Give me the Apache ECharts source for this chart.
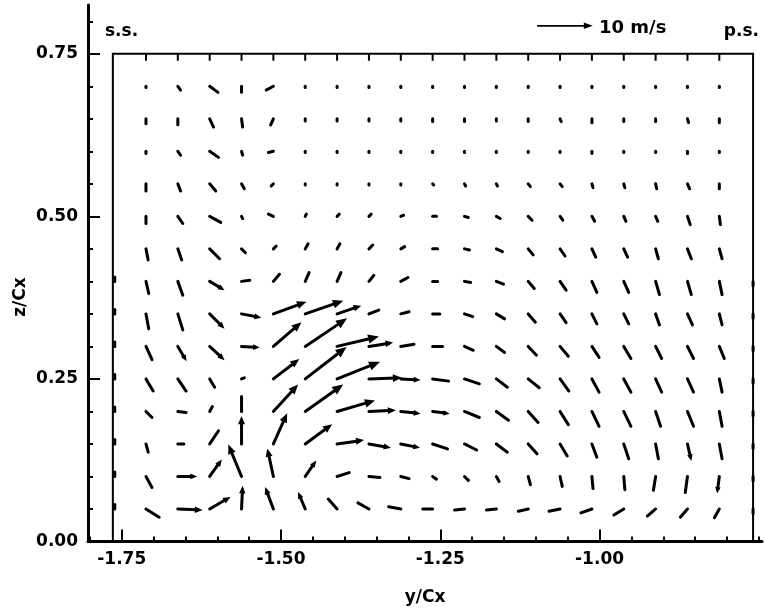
<!DOCTYPE html>
<html>
<head>
<meta charset="utf-8">
<script src="https://cdn.jsdelivr.net/npm/echarts@6/dist/echarts.min.js"></script>
<style>
html,body{margin:0;padding:0;background:#fff;}
#chart{width:764px;height:616px;}
</style>
</head>
<body>
<div id="chart"></div>
<script>
// ---- data ----
// measurement columns (y/Cx) and rows (z/Cx)
const xCols = [-1.712,-1.662,-1.612,-1.562,-1.512,-1.462,-1.412,-1.362,-1.312,-1.262,-1.212,-1.162,-1.112,-1.062,-1.012,-0.962,-0.912,-0.862,-0.812];
const zRows = [0.05,0.10,0.15,0.20,0.25,0.30,0.35,0.40,0.45,0.50,0.55,0.60,0.65,0.70];
// horizontal velocity component (m/s), one row per zRows entry
const U = [
 [2.4, 4.5, 3.8, 0.2,-1.5,-1.3,-1.6,-2.0,-2.2,-1.8,-1.8,-1.8,-1.8,-2.0,-2.0,-1.8,-1.5,-1.3,-0.9],
 [1.1, 3.5, 2.2,-2.4,-1.1, 2.0, 2.2, 2.0, 1.5, 0.7, 0.7, 0.5, 0.4, 0.4, 0.2, 0.2,-0.4,-0.4,-0.4],
 [0.4, 1.1, 1.6, 0.0, 2.5, 4.9, 4.9, 4.0, 3.5, 2.7, 2.2, 2.0, 1.6, 1.3, 0.9, 0.9, 0.5, 0.7, 0.5],
 [1.1, 1.5, 0.5, 0.0, 4.5, 6.9, 6.9, 4.9, 3.6, 3.1, 2.7, 2.2, 1.8, 1.5, 1.3, 1.3, 0.9, 1.1, 0.5],
 [1.3, 1.5, 0.9, 0.5, 4.7, 7.5, 7.8, 6.0, 3.6, 2.9, 2.7, 2.0, 2.0, 1.6, 1.3, 1.3, 1.1, 1.1, 0.5],
 [1.1, 1.6, 2.7, 3.3, 5.1, 7.6, 7.6, 4.4, 2.4, 1.8, 1.6, 1.5, 1.5, 1.5, 1.3, 1.3, 1.1, 1.1, 0.9],
 [0.5, 0.9, 2.7, 3.6, 6.0, 6.9, 4.4, 1.8, 1.5, 1.3, 1.5, 1.5, 1.3, 1.1, 0.9, 0.9, 0.7, 0.9, 0.5],
 [0.5, 0.9, 2.7, 1.5, 1.1, 0.7, 0.7, 0.9, 1.3, 0.9, 1.1, 1.3, 1.1, 1.1, 0.9, 0.9, 0.7, 0.7, 0.5],
 [0.4, 0.7, 1.8, 0.7, 0.5, 0.5, 0.5, 0.7, 0.7, 0.9, 0.9, 1.1, 0.9, 0.9, 0.7, 0.7, 0.5, 0.7, 0.5],
 [0.0, 0.9, 2.0, 0.2,-0.9, 0.2, 0.4, 0.4, 0.5, 0.7, 0.7, 0.7, 0.7, 0.5, 0.5, 0.4, 0.4, 0.5, 0.2],
 [0.0, 0.5, 1.1, 0.5,-0.4, 0.0, 0.0, 0.0, 0.0, 0.2, 0.2, 0.2, 0.4, 0.4, 0.2, 0.2, 0.2, 0.4, 0.0],
 [0.0, 0.5, 1.6, 0.2,-0.9, 0.0, 0.0, 0.0, 0.0, 0.0, 0.0, 0.0, 0.0, 0.0, 0.0, 0.0, 0.0, 0.0, 0.0],
 [0.0, 0.0, 0.7, 0.2,-0.5, 0.0, 0.0, 0.0, 0.0, 0.0, 0.0, 0.0, 0.0, 0.2, 0.0, 0.0, 0.0, 0.2, 0.0],
 [0.0, 0.5, 1.5, 0.0,-1.3, 0.0, 0.0, 0.0, 0.0, 0.0, 0.0, 0.0, 0.0, 0.0, 0.0, 0.0, 0.0, 0.0, 0.0]
];
// vertical velocity component (m/s)
const V = [
 [-1.5,-0.2, 2.2, 4.2, 4.0, 3.1, 1.8, 1.1, 0.4, 0.0,-0.2,-0.2,-0.4,-0.4,-0.7,-1.1,-1.3,-1.5,-1.6],
 [-2.0, 0.0, 3.1, 5.8, 5.1, 2.9, 0.7,-0.2,-0.4,-0.5,-0.7,-0.9,-1.5,-1.8,-2.2,-2.4,-2.5,-2.9,-3.1],
 [-1.5, 0.0, 2.4, 5.1, 5.6, 3.6, 0.7,-0.7,-0.7,-0.9,-1.1,-1.5,-1.8,-2.2,-2.4,-2.7,-2.7,-3.1,-2.7],
 [-1.1,-0.2, 0.9, 2.7, 4.9, 4.9, 2.0, 0.2,-0.4,-0.4,-1.1,-1.6,-2.0,-2.4,-2.7,-2.7,-2.7,-2.7,-2.7],
 [-2.2,-2.2,-1.5, 0.2, 3.6, 5.8, 3.1, 0.2,-0.2,-0.4,-0.9,-1.5,-1.6,-2.2,-2.4,-2.4,-2.4,-2.4,-2.4],
 [-2.4,-2.7,-2.5,-0.2, 4.4, 5.1, 1.8, 0.7, 0.4, 0.0,-0.7,-1.1,-1.6,-1.8,-2.0,-2.2,-2.2,-2.2,-2.2],
 [-2.7,-2.9,-2.7,-0.7, 2.2, 2.4, 1.5, 0.7, 0.4, 0.0,-0.5,-0.9,-1.5,-1.6,-1.8,-1.8,-2.0,-2.0,-2.0],
 [-2.2,-2.5,-1.6, 0.2, 1.3, 1.6, 1.6, 1.1, 0.7, 0.0,-0.2,-0.5,-1.3,-1.6,-2.0,-2.0,-2.4,-2.4,-2.4],
 [-2.0,-2.0,-1.8,-0.7, 0.5, 0.9, 0.9, 0.7, 0.4, 0.0,-0.2,-0.5,-1.1,-1.3,-1.5,-1.5,-1.8,-1.8,-1.8],
 [-1.3,-1.3,-1.1,-0.4, 0.4, 0.4, 0.4, 0.4, 0.2, 0.0,-0.2,-0.4,-0.7,-0.7,-0.9,-0.9,-0.9,-1.5,-1.5],
 [-1.3,-1.3,-1.3,-0.9,-0.4,-0.2,-0.2,-0.2,-0.2,-0.2,-0.4,-0.4,-0.5,-0.5,-0.7,-0.7,-0.9,-0.9,-0.9],
 [-0.4,-0.7,-1.1,-0.7,-0.2,-0.2,-0.2,-0.2,-0.2,-0.2,-0.2,-0.2,-0.2,-0.2,-0.4,-0.2,-0.2,-0.4,-0.2],
 [-0.9,-1.1,-1.5,-1.5,-1.1,-0.4,-0.4,-0.4,-0.4,-0.5,-0.5,-0.4,-0.5,-0.5,-0.7,-0.5,-0.5,-0.7,-0.7],
 [-0.2,-0.7,-1.1,-1.1,-0.7,-0.2,-0.2,-0.2,-0.2,-0.2,-0.2,-0.2,-0.2,-0.2,-0.2,-0.2,-0.2,-0.2,-0.2]
];
// wall (s.s. / p.s.) vectors
const wallX = [-1.761, -0.759];
const wallZ = [0.05,0.10,0.15,0.20,0.25,0.30,0.35,0.40];
const wallV = [
 [0.8,0.8,0.8,0.8,0.8,0.8,0.8,0.8],
 [-0.8,-0.8,-0.8,-0.8,-0.8,-0.8,-0.8,-0.8]
];
// axis ticks / labels
const xMajor = [-1.75,-1.50,-1.25,-1.00];
const xMinor = [-1.80,-1.75,-1.70,-1.65,-1.60,-1.55,-1.50,-1.45,-1.40,-1.35,-1.30,-1.25,-1.20,-1.15,-1.10,-1.05,-1.00,-0.95,-0.90,-0.85,-0.80,-0.75];
const yMajor = [0.00,0.25,0.50,0.75];
const yMinor = [0.05,0.10,0.15,0.20,0.25,0.30,0.35,0.40,0.45,0.50,0.55,0.60,0.65,0.70,0.75,0.80];
const refSpeed = 10; // m/s, key arrow
const refLabel = '10 m/s';

// ---- layout constants ----
const X_MIN = -1.803, X_MAX = -0.745, Y_MIN = 0, Y_MAX = 0.825;
const BOX = {x0: -1.764, x1: -0.759, z0: 0, z1: 0.75};
const REF_X_LEN = 0.0864;       // x-data length drawn for refSpeed
const KEY_POS = [-1.097, 0.793]; // key arrow tail
const FONT = 'DejaVu Sans';

const vecData = [];
zRows.forEach((z, r) => xCols.forEach((x, c) => vecData.push([x, z, U[r][c], V[r][c], 0])));
wallX.forEach((x, w) => wallZ.forEach((z, r) => vecData.push([x, z, 0, wallV[w][r], 0])));
vecData.push([KEY_POS[0], KEY_POS[1], refSpeed, 0, 1]);

function arrow(p, dx, dy, lw, isKey) {
  const len = Math.hypot(dx, dy);
  const children = [];
  let h = 0;
  if (isKey) h = 9; else if (len >= 17) h = Math.min(11, 3.5 + 0.17 * len);
  const ux = len ? dx / len : 0, uy = len ? dy / len : 0;
  const tx = p[0] + dx, ty = p[1] + dy;
  const ex = h ? tx - ux * h * 0.7 : tx, ey = h ? ty - uy * h * 0.7 : ty;
  children.push({type: 'line', shape: {x1: p[0], y1: p[1], x2: ex, y2: ey},
    style: {stroke: '#000', lineWidth: lw, lineCap: 'round'}});
  if (h) {
    const bx = tx - ux * h, by = ty - uy * h, w = h * (isKey ? 0.36 : 0.42);
    children.push({type: 'polygon', shape: {points: [[tx, ty], [bx - uy * w, by + ux * w], [bx + uy * w, by - ux * w]]},
      style: {fill: '#000'}});
  }
  return children;
}

const chart = echarts.init(document.getElementById('chart'), null, {renderer: 'canvas'});
const labelStyle = {fontFamily: FONT, fontWeight: 'bold', fontSize: 17, color: '#000'};

chart.setOption({
  backgroundColor: '#fff',
  animation: false,
  grid: {left: 88, right: 2, top: 5, bottom: 74.5, containLabel: false},
  xAxis: [{
    type: 'value', min: X_MIN, max: X_MAX, position: 'bottom',
    axisLine: {show: true, onZero: false, lineStyle: {color: '#000', width: 3}},
    axisTick: {show: true, inside: true, length: 12, customValues: xMajor, lineStyle: {color: '#000', width: 2}},
    axisLabel: Object.assign({show: true, customValues: xMajor, margin: 10, formatter: v => v.toFixed(2)}, labelStyle),
    splitLine: {show: false},
    name: 'y/Cx', nameLocation: 'middle', nameGap: 48,
    nameTextStyle: Object.assign({}, labelStyle)
  }, {
    type: 'value', min: X_MIN, max: X_MAX, position: 'bottom',
    axisLine: {show: false, onZero: false},
    axisTick: {show: true, inside: true, length: 5, customValues: xMinor, lineStyle: {color: '#000', width: 2}},
    axisLabel: {show: false}, splitLine: {show: false}
  }],
  yAxis: [{
    type: 'value', min: Y_MIN, max: Y_MAX, position: 'left',
    axisLine: {show: true, onZero: false, lineStyle: {color: '#000', width: 3}},
    axisTick: {show: true, inside: true, length: 12, customValues: yMajor, lineStyle: {color: '#000', width: 2}},
    axisLabel: Object.assign({show: true, customValues: yMajor, margin: 10, formatter: v => v.toFixed(2)}, labelStyle),
    splitLine: {show: false}
  }, {
    type: 'value', min: Y_MIN, max: Y_MAX, position: 'left',
    axisLine: {show: false, onZero: false},
    axisTick: {show: true, inside: true, length: 5, customValues: yMinor, lineStyle: {color: '#000', width: 2}},
    axisLabel: {show: false}, splitLine: {show: false}
  }],
  graphic: [
    {type: 'text', x: 21, y: 297, rotation: Math.PI / 2,
      style: {text: 'z/Cx', font: 'bold 17px "DejaVu Sans"', fill: '#000', textAlign: 'center', textVerticalAlign: 'middle'}},
    {type: 'text', x: 105, y: 32,
      style: {text: 's.s.', font: 'bold 17px "DejaVu Sans"', fill: '#000', textAlign: 'left', textVerticalAlign: 'middle'}},
    {type: 'text', x: 759, y: 32,
      style: {text: 'p.s.', font: 'bold 17px "DejaVu Sans"', fill: '#000', textAlign: 'right', textVerticalAlign: 'middle'}},
    {type: 'text', x: 599, y: 28,
      style: {text: refLabel, font: 'bold 18px "DejaVu Sans"', fill: '#000', textAlign: 'left', textVerticalAlign: 'middle'}}
  ],
  series: [{
    type: 'custom',
    name: 'frame',
    coordinateSystem: 'cartesian2d',
    data: [[BOX.x0, BOX.z0]],
    silent: true,
    renderItem: function (params, api) {
      const tl = api.coord([BOX.x0, BOX.z1]);
      const br = api.coord([BOX.x1, BOX.z0]);
      const ch = [{type: 'rect', shape: {x: tl[0], y: tl[1], width: br[0] - tl[0], height: br[1] - tl[1]},
        style: {fill: 'none', stroke: '#000', lineWidth: 2}}];
      xCols.forEach(x => {
        const px = api.coord([x, BOX.z1])[0];
        ch.push({type: 'line', shape: {x1: px, y1: tl[1], x2: px, y2: tl[1] + 7}, style: {stroke: '#000', lineWidth: 2}});
      });
      return {type: 'group', children: ch};
    }
  }, {
    type: 'custom',
    name: 'velocity',
    coordinateSystem: 'cartesian2d',
    data: vecData,
    silent: true,
    clip: false,
    renderItem: function (params, api) {
      const x = api.value(0), z = api.value(1), u = api.value(2), v = api.value(3), isKey = api.value(4) === 1;
      const p = api.coord([x, z]);
      const k = api.size([REF_X_LEN, 0])[0] / refSpeed;
      return {type: 'group', children: arrow(p, u * k, -v * k, isKey ? 1.8 : 3, isKey)};
    }
  }]
});
</script>
</body>
</html>
